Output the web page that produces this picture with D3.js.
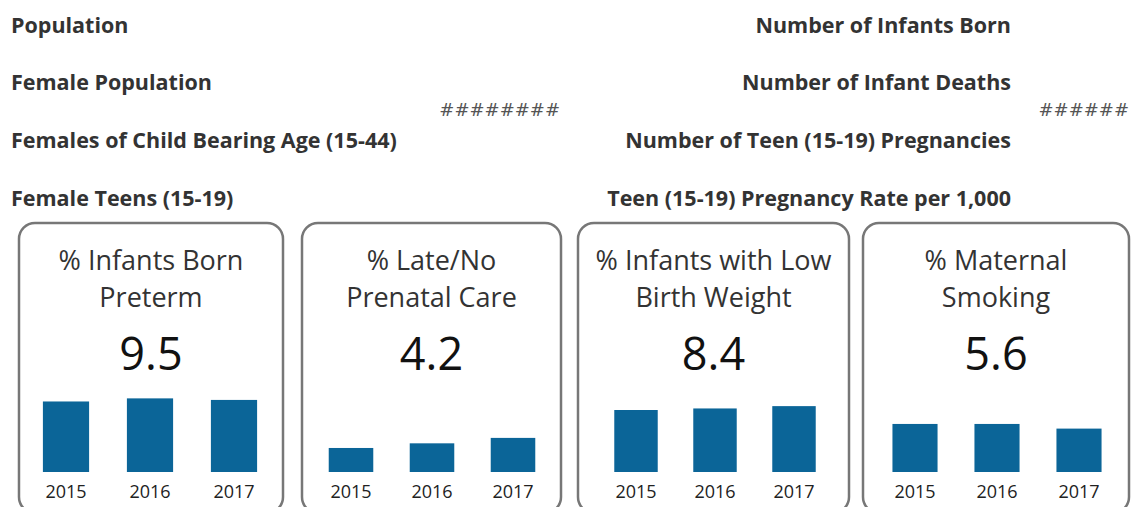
<!DOCTYPE html>
<html>
<head>
<meta charset="utf-8">
<script src="https://cdn.jsdelivr.net/npm/d3@7"></script>
<style>
  body { margin: 0; background: #fff; }
  svg { display: block; }
</style>
</head>
<body>
<div id="chart"></div>
<script>
// data
const years = ['2015', '2016', '2017'];
const leftLabels = ['Population', 'Female Population', 'Females of Child Bearing Age (15-44)', 'Female Teens (15-19)'];
const rightLabels = ['Number of Infants Born', 'Number of Infant Deaths', 'Number of Teen (15-19) Pregnancies', 'Teen (15-19) Pregnancy Rate per 1,000'];
const leftValue = '########';
const rightValue = '######';
const cardTitles = [
    ['% Infants Born', 'Preterm'],
    ['% Late/No', 'Prenatal Care'],
    ['% Infants with Low', 'Birth Weight'],
    ['% Maternal', 'Smoking']
];
const headline = ['9.5', '4.2', '8.4', '5.6'];
const preterm = [9.1, 9.5, 9.3];
const lateCare = [3.1, 3.7, 4.4];
const lowWeight = [8.0, 8.2, 8.5];
const smoking = [6.2, 6.2, 5.6];
const series = [preterm, lateCare, lowWeight, smoking];

const width = 1131, height = 507;
const svg = d3.select('#chart')
    .append('svg')
    .attr('width', width)
    .attr('height', height);

const labelFont = "'Open Sans', 'Noto Sans', sans-serif";

// header rows
const rowY = d3.scalePoint().domain(d3.range(4)).range([32.5, 205.5]);
svg.append('g').selectAll('text')
    .data(leftLabels)
    .join('text')
    .attr('x', 11)
    .attr('y', (d, i) => rowY(i))
    .attr('font-family', labelFont)
    .attr('font-weight', 700)
    .attr('font-size', 21.5)
    .attr('fill', '#333')
    .text(d => d);
svg.append('g').selectAll('text')
    .data(rightLabels)
    .join('text')
    .attr('x', 1011)
    .attr('y', (d, i) => rowY(i))
    .attr('text-anchor', 'end')
    .attr('font-family', labelFont)
    .attr('font-weight', 700)
    .attr('font-size', 21.5)
    .attr('fill', '#333')
    .text(d => d);
svg.append('text')
    .attr('x', 560).attr('y', 116)
    .attr('text-anchor', 'end')
    .attr('font-family', "'DejaVu Sans', sans-serif")
    .attr('font-size', 18)
    .attr('fill', '#555')
    .text(leftValue);
svg.append('text')
    .attr('x', 1129).attr('y', 116)
    .attr('text-anchor', 'end')
    .attr('font-family', "'DejaVu Sans', sans-serif")
    .attr('font-size', 18)
    .attr('fill', '#555')
    .text(rightValue);

// cards
const cards = [
    {x0: 19, x1: 283, mid: 150, step: 84},
    {x0: 302, x1: 561, mid: 432, step: 81},
    {x0: 578, x1: 849, mid: 715, step: 79},
    {x0: 863, x1: 1129, mid: 997, step: 82}
];
const baseY = 472;
const y = d3.scaleLinear().domain([0, 10]).range([baseY, baseY - 77.5]);

cards.forEach((c, i) => {
    const g = svg.append('g');
    const cx = (c.x0 + c.x1) / 2;
    g.append('rect')
        .attr('x', c.x0).attr('y', 223)
        .attr('width', c.x1 - c.x0).attr('height', 290)
        .attr('rx', 16)
        .attr('fill', 'none')
        .attr('stroke', '#777')
        .attr('stroke-width', 2.5);

    g.selectAll('.title')
        .data(cardTitles[i])
        .join('text')
        .attr('class', 'title')
        .attr('x', cx)
        .attr('y', (d, j) => 269.5 + j * 37.5)
        .attr('text-anchor', 'middle')
        .attr('font-family', labelFont)
        .attr('font-size', 27)
        .attr('fill', '#333')
        .text(d => d);

    g.append('text')
        .attr('x', cx).attr('y', 370)
        .attr('text-anchor', 'middle')
        .attr('font-family', labelFont)
        .attr('font-size', 45)
        .attr('fill', '#111')
        .text(headline[i]);

    const x = d3.scaleBand()
        .domain(years)
        .range([c.mid - 1.5 * c.step, c.mid + 1.5 * c.step])
        .paddingInner(0.45)
        .paddingOuter(0.225);

    g.selectAll('rect.bar')
        .data(series[i])
        .join('rect')
        .attr('class', 'bar')
        .attr('x', (d, j) => x(years[j]))
        .attr('y', d => y(d))
        .attr('width', x.bandwidth())
        .attr('height', d => baseY - y(d))
        .attr('fill', '#0b6598');

    g.append('g')
        .attr('transform', `translate(0,${baseY})`)
        .call(d3.axisBottom(x).tickSize(0).tickPadding(13))
        .call(a => a.select('.domain').remove())
        .selectAll('text')
        .attr('font-family', labelFont)
        .attr('font-size', 18)
        .attr('fill', '#222');
});
</script>
</body>
</html>
